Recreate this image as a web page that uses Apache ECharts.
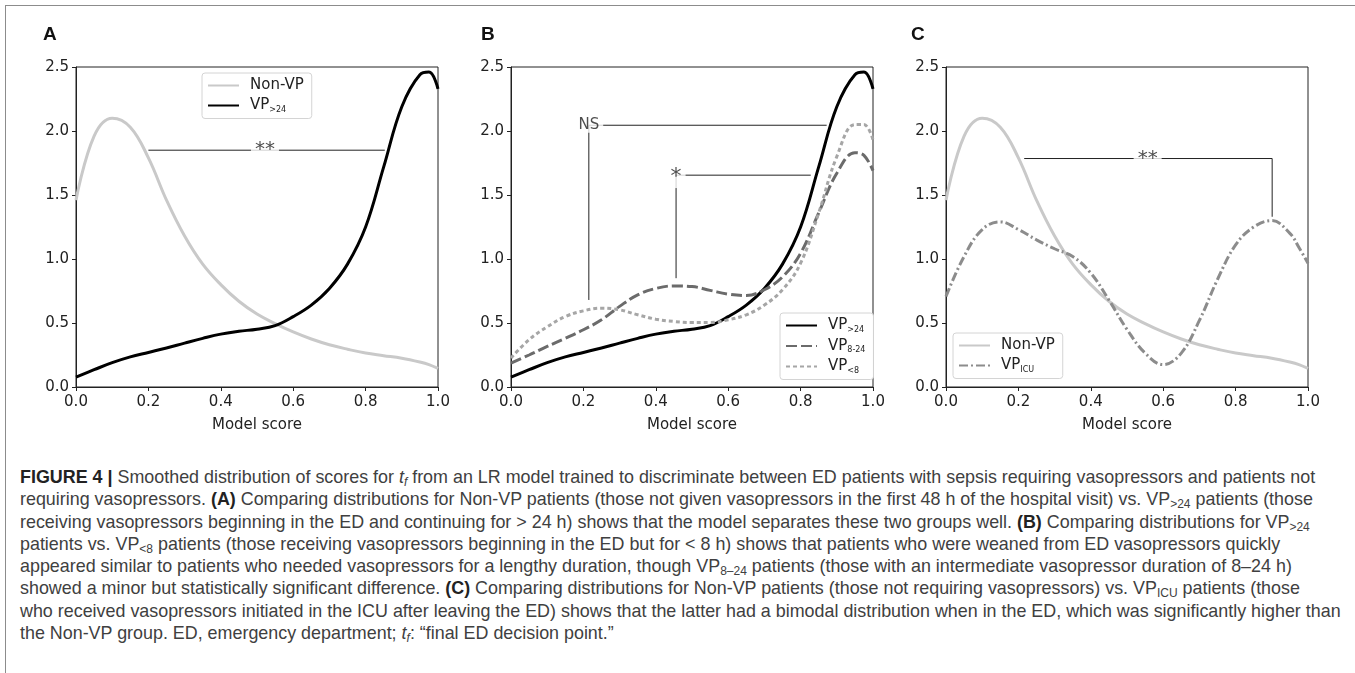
<!DOCTYPE html>
<html>
<head>
<meta charset="utf-8">
<script src="https://cdn.jsdelivr.net/npm/echarts@6/dist/echarts.min.js"></script>
<style>
    body { margin: 0; background: #fff; }
    #frame { position: absolute; left: 5px; top: 5px; width: 1360px; height: 680px;
        border-top: 1px solid #8c8c8c; border-left: 1px solid #8c8c8c; }
    #chart { position: absolute; left: 0; top: 0; width: 1355px; height: 455px; }
    #caption { position: absolute; left: 20px; top: 466px; font-family: "Liberation Sans", Arial, sans-serif;
        font-size: 17.9px; line-height: 22.3px; color: #404040; white-space: nowrap; }
    #caption b { color: #222; }
    #caption sub { font-size: 12px; vertical-align: -3px; line-height: 0; }
</style>
</head>
<body>
<div id="frame"></div>
<div id="chart"></div>
<div id="caption">
<b>FIGURE 4 |</b> Smoothed distribution of scores for <i>t<sub>f</sub></i> from an LR model trained to discriminate between ED patients with sepsis requiring vasopressors and patients not<br>
requiring vasopressors. <b>(A)</b> Comparing distributions for Non-VP patients (those not given vasopressors in the first 48 h of the hospital visit) vs. VP<sub>&gt;24</sub> patients (those<br>
receiving vasopressors beginning in the ED and continuing for &gt; 24 h) shows that the model separates these two groups well. <b>(B)</b> Comparing distributions for VP<sub>&gt;24</sub><br>
patients vs. VP<sub>&lt;8</sub> patients (those receiving vasopressors beginning in the ED but for &lt; 8 h) shows that patients who were weaned from ED vasopressors quickly<br>
appeared similar to patients who needed vasopressors for a lengthy duration, though VP<sub>8–24</sub> patients (those with an intermediate vasopressor duration of 8–24 h)<br>
showed a minor but statistically significant difference. <b>(C)</b> Comparing distributions for Non-VP patients (those not requiring vasopressors) vs. VP<sub>ICU</sub> patients (those<br>
who received vasopressors initiated in the ICU after leaving the ED) shows that the latter had a bimodal distribution when in the ED, which was significantly higher than<br>
the Non-VP group. ED, emergency department; <i>t<sub>f</sub></i>: “final ED decision point.”
</div>
<script>
// model score grid shared by all curves
var xs = [0, 0.05, 0.1, 0.15, 0.2, 0.25, 0.3, 0.35, 0.4, 0.45, 0.5,
    0.55, 0.6, 0.65, 0.7, 0.75, 0.8, 0.85, 0.9, 0.95, 0.975, 1.0];

var nonVP  = [1.46, 1.96, 2.10, 2.03, 1.79, 1.46, 1.18, 0.96, 0.80, 0.67, 0.57,
    0.495, 0.43, 0.375, 0.33, 0.295, 0.265, 0.245, 0.225, 0.195, 0.175, 0.145];
var vpGt24 = [0.078, 0.135, 0.19, 0.235, 0.27, 0.305, 0.343, 0.38, 0.413, 0.435, 0.452,
    0.48, 0.55, 0.64, 0.77, 0.96, 1.25, 1.72, 2.19, 2.44, 2.46, 2.33];
var vp8to24 = [0.187, 0.25, 0.317, 0.38, 0.447, 0.525, 0.63, 0.72, 0.77, 0.79, 0.785,
    0.755, 0.725, 0.715, 0.76, 0.86, 1.045, 1.36, 1.67, 1.83, 1.81, 1.69];
var vpLt8  = [0.226, 0.37, 0.47, 0.55, 0.595, 0.616, 0.603, 0.564, 0.53, 0.512, 0.504,
    0.504, 0.525, 0.564, 0.64, 0.76, 0.967, 1.36, 1.80, 2.05, 2.05, 1.93];
var vpICU  = [0.707, 1.02, 1.23, 1.29, 1.23, 1.15, 1.08, 1.02, 0.89, 0.68, 0.45,
    0.265, 0.175, 0.265, 0.52, 0.84, 1.11, 1.25, 1.30, 1.20, 1.09, 0.967];

// significance brackets [x, y]
var bracketA   = [[0.2, 1.85], [0.853, 1.85]];
var bracketBns = [[0.215, 0.68], [0.215, 2.045], [0.872, 2.045]];
var bracketBst = [[0.456, 0.85], [0.456, 1.655], [0.828, 1.655]];
var bracketC   = [[0.216, 1.785], [0.901, 1.785], [0.901, 1.33]];
var markA  = [0.522, 1.85, '**'];
var markBn = [0.215, 2.045, 'NS'];
var markBs = [0.456, 1.64, '*'];
var markC  = [0.557, 1.785, '**'];

var xTicks = [0, 0.2, 0.4, 0.6, 0.8, 1.0];
var yTicks = [0, 0.5, 1.0, 1.5, 2.0, 2.5];

var myChart = echarts.init(document.getElementById('chart'));

function pairs(vals) {
    return xs.map(function (x, i) { return [x, vals[i]]; });
}

var tickFont = {fontFamily: 'DejaVu Sans', fontSize: 15, color: '#222'};
var grids = [76, 511, 946].map(function (l) {
    return {left: l, top: 67, width: 362, height: 320, show: true, borderColor: '#222', borderWidth: 1};
});

function xAxisFor(i) {
    return {
        type: 'value', gridIndex: i, min: xTicks[0], max: xTicks[xTicks.length - 1], interval: 0.2,
        name: 'Model score', nameLocation: 'middle', nameGap: 31,
        nameTextStyle: {fontFamily: 'DejaVu Sans', fontSize: 15, color: '#222'},
        axisLine: {show: true, lineStyle: {color: '#222'}},
        axisTick: {show: true, length: 4, lineStyle: {color: '#222'}},
        splitLine: {show: false},
        axisLabel: Object.assign({margin: 8, formatter: function (v) { return v.toFixed(1); }}, tickFont)
    };
}
function yAxisFor(i) {
    return {
        type: 'value', gridIndex: i, min: yTicks[0], max: yTicks[yTicks.length - 1], interval: 0.5,
        axisLine: {show: true, lineStyle: {color: '#222'}},
        axisTick: {show: true, length: 4, lineStyle: {color: '#222'}},
        splitLine: {show: false},
        axisLabel: Object.assign({margin: 7, formatter: function (v) { return v.toFixed(1); }}, tickFont)
    };
}

function curve(name, vals, i, color, type, width) {
    return {
        name: name, type: 'line', xAxisIndex: i, yAxisIndex: i, data: pairs(vals),
        smooth: 0.4, symbol: 'none', showSymbol: false, silent: true, z: 3,
        lineStyle: {color: color, width: width || 3, type: type || 'solid'},
        itemStyle: {color: color}
    };
}
function bracket(pts, i) {
    return {
        type: 'line', xAxisIndex: i, yAxisIndex: i, data: pts, symbol: 'none', silent: true, z: 4,
        lineStyle: {color: '#222', width: 1}
    };
}
function mark(m, i, size) {
    return {
        type: 'scatter', xAxisIndex: i, yAxisIndex: i, data: [[m[0], m[1]]], symbolSize: 0, silent: true, z: 6,
        label: {show: true, position: 'inside', formatter: m[2], fontFamily: 'DejaVu Sans',
            fontSize: size || 20, color: '#222', backgroundColor: '#fff', padding: [0, 4]}
    };
}

var rich = {
    n: {fontFamily: 'DejaVu Sans', fontSize: 15, color: '#222', lineHeight: 16, padding: [0, 0, 0, 6]},
    s: {fontFamily: 'DejaVu Sans', fontSize: 8, color: '#222', lineHeight: 16, verticalAlign: 'bottom'}
};
var subNames = {'VP>24': ['VP', '>24'], 'VP8-24': ['VP', '8-24'], 'VP<8': ['VP', '<8'], 'VP_ICU': ['VP', 'ICU']};
function legendFor(names, left, top) {
    return {
        data: names, left: left, top: top, orient: 'vertical', itemWidth: 31, itemHeight: 14, itemGap: 5,
        padding: [5, 8, 5, 5], backgroundColor: '#fff', borderColor: '#d4d4d4', borderWidth: 1, borderRadius: 3,
        selectedMode: false,
        itemStyle: {opacity: 0},
        textStyle: {rich: rich},
        formatter: function (name) {
            var p = subNames[name];
            return p ? '{n|' + p[0] + '}{s|' + p[1] + '}' : '{n|' + name + '}';
        }
    };
}

var option = {
    animation: false,
    title: [
        {text: 'A', left: 43, top: 25},
        {text: 'B', left: 481, top: 25},
        {text: 'C', left: 911, top: 25}
    ].map(function (t) {
        t.padding = 0;
        t.textStyle = {fontFamily: 'Liberation Sans', fontSize: 19, fontWeight: 'bold', color: '#111'};
        return t;
    }),
    grid: grids,
    xAxis: [xAxisFor(0), xAxisFor(1), xAxisFor(2)],
    yAxis: [yAxisFor(0), yAxisFor(1), yAxisFor(2)],
    legend: [
        legendFor(['Non-VP', 'VP>24'], 202, 73),
        legendFor(['VP>24', 'VP8-24', 'VP<8'], 780, 313),
        legendFor(['Non-VP', 'VP_ICU'], 953, 333)
    ],
    series: [
        curve('Non-VP', nonVP, 0, '#c9c9c9'),
        curve('VP>24', vpGt24, 0, '#000'),
        curve('VP>24', vpGt24, 1, '#000'),
        curve('VP8-24', vp8to24, 1, '#6b6b6b', [11, 4]),
        curve('VP<8', vpLt8, 1, '#a6a6a6', [4, 3]),
        curve('Non-VP', nonVP, 2, '#c9c9c9'),
        curve('VP_ICU', vpICU, 2, '#8c8c8c', [9, 3, 2, 3]),
        bracket(bracketA, 0), mark(markA, 0),
        bracket(bracketBns, 1), mark(markBn, 1, 15),
        bracket(bracketBst, 1), mark(markBs, 1, 22),
        bracket(bracketC, 2), mark(markC, 2)
    ]
};
myChart.setOption(option);
</script>
</body>
</html>
